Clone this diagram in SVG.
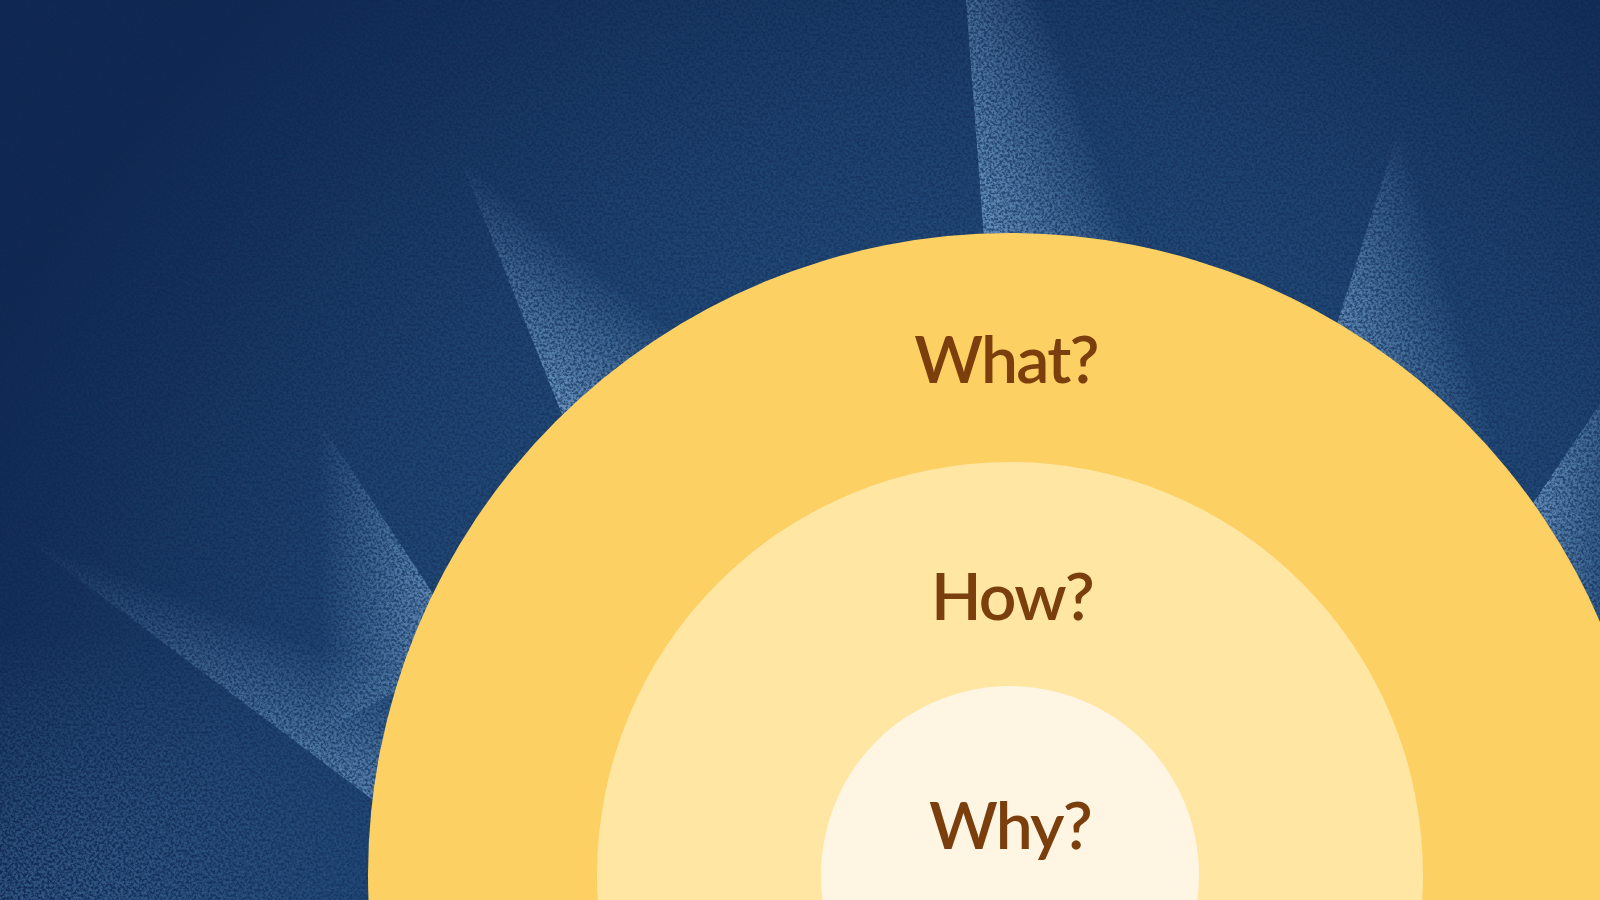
<svg xmlns="http://www.w3.org/2000/svg" width="1600" height="900" viewBox="0 0 1600 900">
  <defs>
    <style>
      .lbl { font-family: "Lato", "Noto Sans", "Liberation Sans", sans-serif; font-weight: 600; font-size: 66px; letter-spacing: -1.8px; fill: #7B3F0E; text-anchor: middle; }
      .ray-stop { stop-color: #86B3DC; }
    </style>
    <radialGradient id="glow" gradientUnits="userSpaceOnUse" cx="1010" cy="875" r="1150">
      <stop offset="0.5" stop-color="#2A5888" stop-opacity="0.65"/>
      <stop offset="0.56" stop-color="#2A5888" stop-opacity="0.6"/>
      <stop offset="0.69" stop-color="#2A5888" stop-opacity="0.42"/>
      <stop offset="0.85" stop-color="#2A5888" stop-opacity="0.18"/>
      <stop offset="1" stop-color="#2A5888" stop-opacity="0.03"/>
    </radialGradient>
    <radialGradient id="blGlow" gradientUnits="userSpaceOnUse" cx="60" cy="950" r="320">
      <stop offset="0" stop-color="#4D7DAA" stop-opacity="0.6"/>
      <stop offset="1" stop-color="#4D7DAA" stop-opacity="0"/>
    </radialGradient>
    <linearGradient id="gTop" gradientUnits="userSpaceOnUse" x1="985" y1="233" x2="1111.5" y2="186.2">
      <stop offset="0" class="ray-stop" stop-opacity="0.6"/>
      <stop offset="1" class="ray-stop" stop-opacity="0"/>
    </linearGradient>
    <linearGradient id="gUL" gradientUnits="userSpaceOnUse" x1="550" y1="397" x2="631.8" y2="296">
      <stop offset="0" class="ray-stop" stop-opacity="0.6"/>
      <stop offset="1" class="ray-stop" stop-opacity="0"/>
    </linearGradient>
    <linearGradient id="gL1" gradientUnits="userSpaceOnUse" x1="367" y1="816" x2="416.8" y2="682.7">
      <stop offset="0" class="ray-stop" stop-opacity="0.55"/>
      <stop offset="1" class="ray-stop" stop-opacity="0"/>
    </linearGradient>
    <linearGradient id="gL2" gradientUnits="userSpaceOnUse" x1="428" y1="581" x2="319" y2="582.5">
      <stop offset="0" class="ray-stop" stop-opacity="0.5"/>
      <stop offset="1" class="ray-stop" stop-opacity="0"/>
    </linearGradient>
    <linearGradient id="gR1" gradientUnits="userSpaceOnUse" x1="1335" y1="330" x2="1452" y2="294">
      <stop offset="0" class="ray-stop" stop-opacity="0.55"/>
      <stop offset="1" class="ray-stop" stop-opacity="0"/>
    </linearGradient>
    <linearGradient id="gR2" gradientUnits="userSpaceOnUse" x1="1530" y1="497" x2="1632.5" y2="505.4">
      <stop offset="0" class="ray-stop" stop-opacity="0.6"/>
      <stop offset="1" class="ray-stop" stop-opacity="0"/>
    </linearGradient>
    <filter id="grain" filterUnits="userSpaceOnUse" x="0" y="0" width="1600" height="900">
      <feTurbulence type="fractalNoise" baseFrequency="0.38" numOctaves="3" seed="7" result="n"/>
      <feColorMatrix in="n" type="matrix" values="0 0 0 0 0  0 0 0 0 0  0 0 0 0 0  3.2 0 0 0 -1.05" result="m"/>
      <feComposite in="SourceGraphic" in2="m" operator="in"/>
    </filter>
    <g id="rays">
      <polygon points="1032,875 966,0 1200,0 1120,875" fill="url(#gTop)"/>
      <polygon points="620,560 397,0 800,0 800,520" fill="url(#gUL)"/>
      <polygon points="480,880 0,520 0,380 480,600" fill="url(#gL1)"/>
      <polygon points="470,650 240,300 60,380 200,800" fill="url(#gL2)"/>
      <polygon points="1300,440 1440,0 1700,0 1700,500" fill="url(#gR1)"/>
      <polygon points="1400,700 1650,330 1700,330 1700,760" fill="url(#gR2)"/>
    </g>
  </defs>

  <g id="background">
    <rect x="0" y="0" width="1600" height="900" fill="#0F2750"/>
    <rect x="0" y="0" width="1600" height="900" fill="url(#glow)" opacity="0.6"/>
    <g filter="url(#grain)">
      <rect x="0" y="0" width="1600" height="900" fill="url(#glow)" opacity="0.8"/>
      <rect x="0" y="600" width="500" height="300" fill="url(#blGlow)"/>
    </g>
    <use href="#rays" opacity="0.3"/>
    <g filter="url(#grain)">
      <use href="#rays"/>
    </g>
  </g>

  <g id="node-what">
    <circle cx="1010" cy="875" r="642" fill="#FCD062"/>
    <text class="lbl" x="1006" y="383">What?</text>
  </g>
  <g id="node-how">
    <circle cx="1010" cy="875" r="413" fill="#FFE6A3"/>
    <text class="lbl" x="1012" y="620">How?</text>
  </g>
  <g id="node-why">
    <circle cx="1010" cy="875" r="189" fill="#FFF5E3"/>
    <text class="lbl" x="1010" y="849">Why?</text>
  </g>
  <g id="connectors"/>
</svg>
